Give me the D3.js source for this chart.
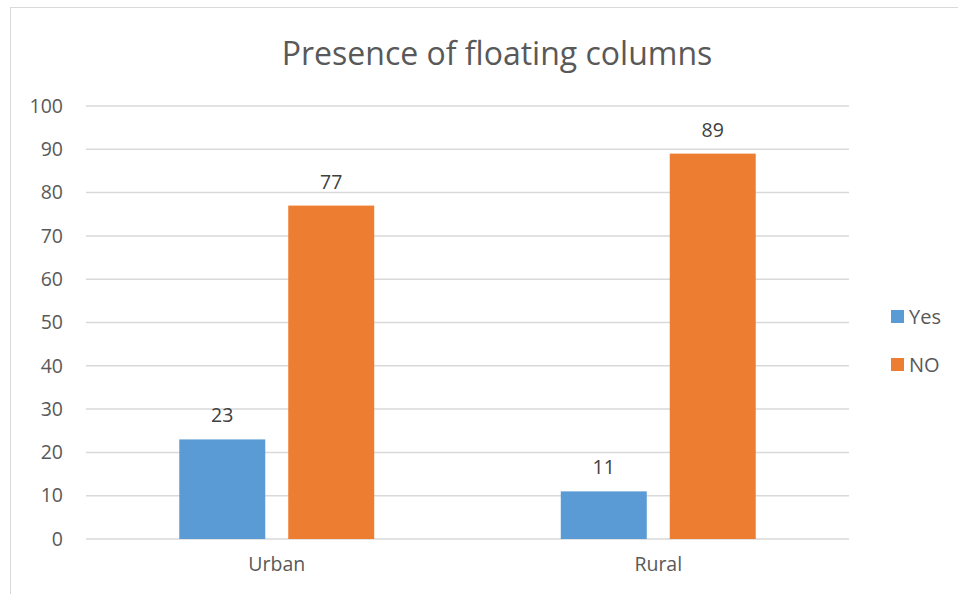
<!DOCTYPE html>
<html>
<head>
<meta charset="utf-8">
<script src="https://cdn.jsdelivr.net/npm/d3@7"></script>
<style>
  body { margin: 0; background: #fff; }
  svg text { font-family: "Open Sans", sans-serif; }
</style>
</head>
<body>
<div id="chart"></div>
<script>
const categories = ["Urban", "Rural"];
const seriesNames = ["Yes", "NO"];
const yesValues = [23, 11];
const noValues = [77, 89];
const yTicks = [0, 10, 20, 30, 40, 50, 60, 70, 80, 90, 100];
const colors = ["#5b9bd5", "#ed7d31"];

const width = 958, height = 594;
const margin = { top: 106, bottom: 55, left: 86, right: 109 };

const svg = d3.select("#chart").append("svg")
  .attr("width", width)
  .attr("height", height);

// chart frame
svg.append("rect")
  .attr("x", 10.5).attr("y", 7.5)
  .attr("width", width + 10).attr("height", height - 5)
  .attr("fill", "none").attr("stroke", "#d9d9d9");

const xScale = d3.scaleBand()
  .domain(categories)
  .range([margin.left, width - margin.right]);

const xSub = d3.scaleBand()
  .domain(seriesNames)
  .range([0, xScale.bandwidth() * 0.511])
  .paddingInner(0.211);

const yScale = d3.scaleLinear()
  .domain([0, 100])
  .range([height - margin.bottom, margin.top]);

// gridlines
svg.append("g")
  .selectAll("line")
  .data(yTicks)
  .join("line")
  .attr("x1", margin.left).attr("x2", width - margin.right)
  .attr("y1", d => yScale(d)).attr("y2", d => yScale(d))
  .attr("stroke", "#d9d9d9").attr("stroke-width", 1.5);

// y axis labels
const yAxis = d3.axisLeft(yScale).tickValues(yTicks).tickSize(0).tickPadding(23);
svg.append("g")
  .attr("transform", `translate(${margin.left},0)`)
  .call(yAxis)
  .call(g => g.select(".domain").remove())
  .selectAll("text")
  .attr("font-size", 19.5).attr("fill", "#595959")
  .style("font-family", "'Open Sans', sans-serif");

// x axis labels
const xAxis = d3.axisBottom(xScale).tickSize(0).tickPadding(18);
svg.append("g")
  .attr("transform", `translate(0,${height - margin.bottom})`)
  .call(xAxis)
  .call(g => g.select(".domain").remove())
  .selectAll("text")
  .attr("font-size", 19.5).attr("fill", "#595959")
  .style("font-family", "'Open Sans', sans-serif");

const rows = categories.map((c, i) => ({ cat: c, vals: [yesValues[i], noValues[i]] }));
const groupOffset = (xScale.bandwidth() - xSub.range()[1]) / 2;

const groups = svg.append("g")
  .selectAll("g")
  .data(rows)
  .join("g")
  .attr("transform", d => `translate(${xScale(d.cat) + groupOffset},0)`);

const cells = groups.selectAll("g")
  .data(d => d.vals.map((v, j) => ({ name: seriesNames[j], value: v, color: colors[j] })))
  .join("g");

cells.append("rect")
  .attr("x", d => xSub(d.name))
  .attr("y", d => yScale(d.value))
  .attr("width", xSub.bandwidth())
  .attr("height", d => yScale(0) - yScale(d.value))
  .attr("fill", d => d.color);

cells.append("text")
  .attr("x", d => xSub(d.name) + xSub.bandwidth() / 2)
  .attr("y", d => yScale(d.value) - 17)
  .attr("text-anchor", "middle")
  .attr("font-size", 19.5).attr("fill", "#404040")
  .text(d => d.value);

// title
svg.append("text")
  .attr("x", 497).attr("y", 65)
  .attr("text-anchor", "middle")
  .attr("font-size", 32).attr("fill", "#595959")
  .text("Presence of floating columns");

// legend
const legend = svg.append("g")
  .selectAll("g")
  .data(seriesNames)
  .join("g")
  .attr("transform", (d, i) => `translate(891,${310 + i * 48})`);

legend.append("rect")
  .attr("width", 13).attr("height", 13)
  .attr("fill", (d, i) => colors[i]);

legend.append("text")
  .attr("x", 18).attr("y", 14)
  .attr("font-size", 20).attr("fill", "#595959")
  .text(d => d);
</script>
</body>
</html>
